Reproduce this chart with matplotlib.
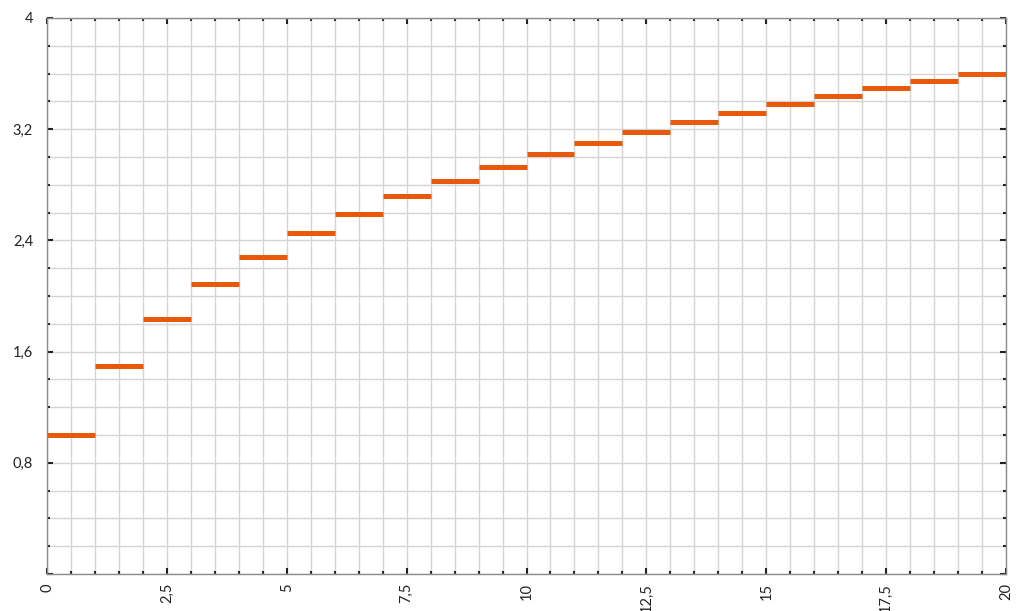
import numpy as np
import matplotlib.pyplot as plt
from matplotlib.ticker import MultipleLocator, FuncFormatter

# step values (one per unit interval)
x_start = list(range(20))
values = [1.0, 1.5, 1.833, 2.083, 2.283, 2.45, 2.593, 2.718, 2.829, 2.929,
          3.02, 3.103, 3.18, 3.252, 3.318, 3.381, 3.44, 3.495, 3.548, 3.598]

line_color = '#e8590c'

plt.rcParams['font.family'] = ['Lato', 'DejaVu Sans']

fig = plt.figure(figsize=(10.25, 6.11), dpi=100)
ax = fig.add_axes([47 / 1025, 1 - 574 / 611, (1006 - 47) / 1025, (574 - 18) / 611])

x0 = np.array(x_start)
ax.hlines(values, x0, x0 + 1, colors=line_color, linewidth=3.6, zorder=3)

ax.set_xlim(0, 20)
ax.set_ylim(0, 4)
ax.xaxis.set_major_locator(MultipleLocator(2.5))
ax.xaxis.set_minor_locator(MultipleLocator(0.5))
ax.yaxis.set_major_locator(MultipleLocator(0.8))
ax.yaxis.set_minor_locator(MultipleLocator(0.2))


def xfmt(v, pos):
    return ('%g' % round(v, 3)).replace('.', ',')


def yfmt(v, pos):
    if abs(v) < 1e-9:
        return ''
    return ('%g' % round(v, 3)).replace('.', ',')


ax.xaxis.set_major_formatter(FuncFormatter(xfmt))
ax.yaxis.set_major_formatter(FuncFormatter(yfmt))

ax.grid(True, which='both', color='#d4d4d4', linewidth=1.0, zorder=0)
ax.set_axisbelow(True)

for s in ax.spines.values():
    s.set_color('#8c8c8c')
    s.set_linewidth(1.0)

ax.tick_params(which='both', direction='in', top=True, right=True, color='#222222')
ax.tick_params(which='major', length=4, width=1.5, labelsize=10.5, labelcolor='#222222')
ax.tick_params(which='minor', length=2, width=1.5)
ax.tick_params(axis='y', which='major', pad=10)
ax.tick_params(axis='x', which='major', pad=6.5, labelrotation=90)

fig.savefig('out.png', dpi=100)
